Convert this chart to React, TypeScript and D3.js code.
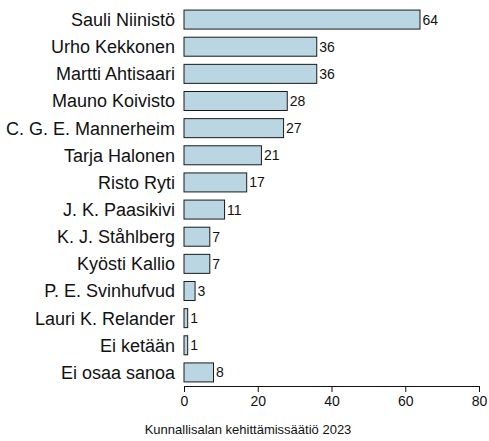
import React, { useEffect, useRef } from 'react'
import * as d3 from 'd3'

const names = [
  'Sauli Niinistö',
  'Urho Kekkonen',
  'Martti Ahtisaari',
  'Mauno Koivisto',
  'C. G. E. Mannerheim',
  'Tarja Halonen',
  'Risto Ryti',
  'J. K. Paasikivi',
  'K. J. Ståhlberg',
  'Kyösti Kallio',
  'P. E. Svinhufvud',
  'Lauri K. Relander',
  'Ei ketään',
  'Ei osaa sanoa',
]
const shares = [64, 36, 36, 28, 27, 21, 17, 11, 7, 7, 3, 1, 1, 8]
const xTicks = [0, 20, 40, 60, 80]
const caption = 'Kunnallisalan kehittämissäätiö 2023'

const FONT = 'Liberation Sans, Arial, sans-serif'

export default function App() {
  const svgRef = useRef<SVGSVGElement>(null)
  const width = 489
  const height = 441

  useEffect(() => {
    if (!svgRef.current) return
    const svg = d3.select(svgRef.current)
    svg.selectAll('*').remove()

    const margin = { top: 6, right: 10, bottom: 55, left: 184 }
    const innerW = width - margin.left - margin.right
    const innerH = height - margin.top - margin.bottom

    const x = d3.scaleLinear().domain([0, 80]).range([0, innerW])
    const y = d3.scaleBand<string>().domain(names).range([0, innerH]).paddingInner(0.3).paddingOuter(0.15)

    const g = svg.append('g').attr('transform', `translate(${margin.left},${margin.top})`)

    // bars
    g.selectAll('rect.bar')
      .data(names)
      .enter()
      .append('rect')
      .attr('class', 'bar')
      .attr('x', 0)
      .attr('y', d => y(d)!)
      .attr('width', (d, i) => x(shares[i]))
      .attr('height', y.bandwidth())
      .attr('fill', '#bad6e2')
      .attr('stroke', '#1a1a1a')
      .attr('stroke-width', 1)

    // value labels
    g.selectAll('text.val')
      .data(names)
      .enter()
      .append('text')
      .attr('class', 'val')
      .attr('x', (d, i) => x(shares[i]) + 2.5)
      .attr('y', d => y(d)! + y.bandwidth() / 2)
      .attr('dy', '0.36em')
      .attr('font-family', FONT)
      .attr('font-size', 14)
      .attr('fill', '#111')
      .text((d, i) => shares[i])

    // category labels
    g.selectAll('text.cat')
      .data(names)
      .enter()
      .append('text')
      .attr('class', 'cat')
      .attr('x', -9)
      .attr('y', d => y(d)! + y.bandwidth() / 2)
      .attr('dy', '0.36em')
      .attr('text-anchor', 'end')
      .attr('font-family', FONT)
      .attr('font-size', 18)
      .attr('fill', '#111')
      .text(d => d)

    // x axis
    const axis = g.append('g')
      .attr('transform', `translate(0,${innerH})`)
      .call(d3.axisBottom(x).tickValues(xTicks).tickSize(6).tickSizeOuter(0).tickPadding(4))
    axis.select('.domain').attr('stroke', '#111')
    axis.selectAll('.tick line').attr('stroke', '#111')
    axis.selectAll('.tick text')
      .attr('font-family', FONT)
      .attr('font-size', 14)
      .attr('fill', '#111')

    // caption
    svg.append('text')
      .attr('x', 248)
      .attr('y', 434)
      .attr('text-anchor', 'middle')
      .attr('font-family', FONT)
      .attr('font-size', 13)
      .attr('fill', '#111')
      .text(caption)
  }, [])

  return (
    <svg
      ref={svgRef}
      width={width}
      height={height}
      style={{ position: 'absolute', left: 0, top: 0, background: '#fff' }}
    />
  )
}
